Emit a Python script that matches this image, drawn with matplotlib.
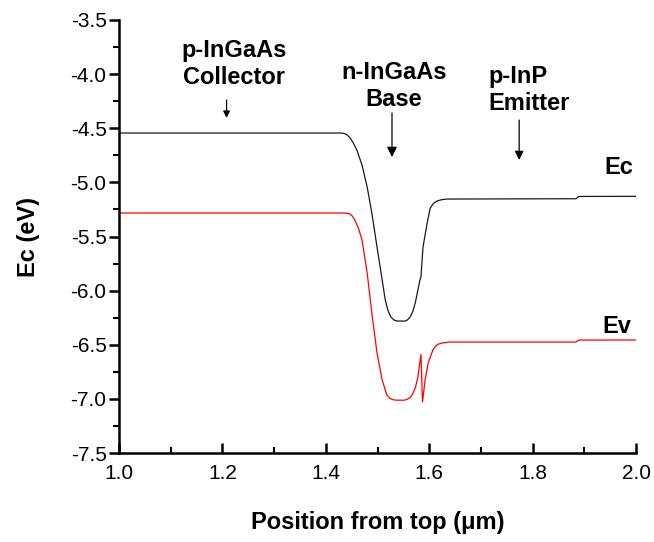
import numpy as np
import matplotlib
matplotlib.use('Agg')
import matplotlib.pyplot as plt
from matplotlib.ticker import MultipleLocator

plt.rcParams['font.family'] = ['Liberation Sans', 'DejaVu Sans']

# conduction band edge
ec_x = [1.000, 1.430, 1.437, 1.442, 1.447, 1.453, 1.460, 1.470, 1.480, 1.489,
        1.499, 1.509, 1.515, 1.520, 1.526, 1.532, 1.538, 1.553, 1.558, 1.563,
        1.568, 1.573, 1.582, 1.584, 1.588, 1.596, 1.602, 1.608, 1.615, 1.624,
        1.634, 1.884, 1.889, 2.000]
ec_y = [-4.544, -4.544, -4.550, -4.565, -4.590, -4.635, -4.701, -4.840, -5.043, -5.283,
        -5.597, -5.902, -6.087, -6.180, -6.245, -6.272, -6.281, -6.281, -6.270, -6.244,
        -6.195, -6.114, -5.902, -5.874, -5.597, -5.375, -5.237, -5.195, -5.172, -5.160,
        -5.154, -5.151, -5.130, -5.129]

# valence band edge
ev_x = [1.000, 1.438, 1.446, 1.451, 1.456, 1.463, 1.470, 1.480, 1.489, 1.499,
        1.509, 1.518, 1.524, 1.530, 1.536, 1.552, 1.557, 1.562, 1.567, 1.573,
        1.578, 1.584, 1.587, 1.592, 1.598, 1.607, 1.612, 1.617, 1.627, 1.640,
        1.884, 1.889, 2.000]
ev_y = [-5.283, -5.283, -5.290, -5.310, -5.348, -5.420, -5.532, -5.837, -6.207, -6.576,
        -6.826, -6.964, -6.995, -7.008, -7.012, -7.012, -7.005, -6.990, -6.964, -6.900,
        -6.800, -6.590, -7.029, -6.826, -6.669, -6.549, -6.515, -6.495, -6.482, -6.475,
        -6.475, -6.457, -6.456]

fig = plt.figure(figsize=(6.54, 5.42), dpi=100)
ax = fig.add_axes([0.182, 0.1642, 0.7905, 0.7989])

ax.plot(ec_x, ec_y, color='#1a1a1a', linewidth=0.9)
ax.plot(ev_x, ev_y, color='red', linewidth=0.9)

ax.set_xlim(1.0, 2.0)
ax.set_ylim(-7.5, -3.5)
ax.xaxis.set_major_locator(MultipleLocator(0.2))
ax.xaxis.set_minor_locator(MultipleLocator(0.1))
ax.yaxis.set_major_locator(MultipleLocator(0.5))
ax.yaxis.set_minor_locator(MultipleLocator(0.25))
ax.xaxis.set_major_formatter(plt.FormatStrFormatter('%.1f'))
ax.yaxis.set_major_formatter(plt.FormatStrFormatter('%.1f'))

for s in ['top', 'right']:
    ax.spines[s].set_visible(False)
for s in ['left', 'bottom']:
    ax.spines[s].set_linewidth(1.8)

ax.tick_params(axis='x', which='major', direction='in', length=7, width=1.8, labelsize=15, pad=8)
ax.tick_params(axis='x', which='minor', direction='in', length=4, width=1.5)
ax.tick_params(axis='y', which='major', direction='out', length=7, width=1.8, labelsize=15, pad=2)
ax.tick_params(axis='y', which='minor', direction='out', length=4, width=1.5)

ax.set_xlabel('Position from top (\u03bcm)', fontsize=17, fontweight='bold', labelpad=20)
ax.set_ylabel('Ec (eV)', fontsize=17, fontweight='bold', labelpad=22)

txt = dict(fontsize=17, fontweight='bold', linespacing=1.25)
ax.text(1.222, -3.906, 'p-InGaAs\nCollector', ha='center', va='center', **txt)
ax.text(1.532, -4.11, 'n-InGaAs\nBase', ha='center', va='center', **txt)
ax.text(1.714, -4.147, 'p-InP\nEmitter', ha='left', va='center', **txt)
ax.text(1.967, -4.867, 'Ec', ha='center', va='center', fontsize=17, fontweight='bold')
ax.text(1.963, -6.327, 'Ev', ha='center', va='center', fontsize=17, fontweight='bold')

arr = dict(arrowstyle='-|>', color='black', lw=0.9, shrinkA=0, shrinkB=0)
ax.annotate('', xy=(1.208, -4.405), xytext=(1.208, -4.239),
            arrowprops=dict(arr, mutation_scale=10))
ax.annotate('', xy=(1.528, -4.766), xytext=(1.528, -4.359),
            arrowprops=dict(arr, mutation_scale=15))
ax.annotate('', xy=(1.774, -4.793), xytext=(1.774, -4.424),
            arrowprops=dict(arr, mutation_scale=13))

fig.savefig('out.png', dpi=100)
